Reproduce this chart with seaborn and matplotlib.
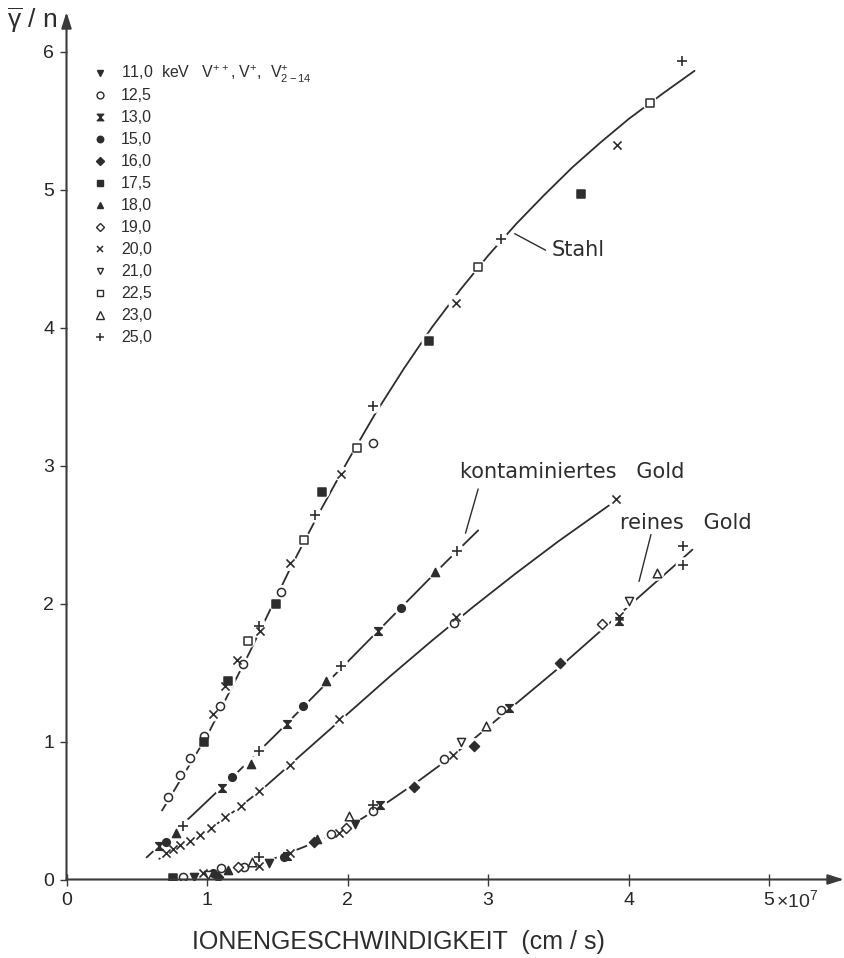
import matplotlib
matplotlib.use("Agg")
import numpy as np
import pandas as pd
import matplotlib.pyplot as plt
from matplotlib.path import Path
from matplotlib.lines import Line2D
import seaborn as sns

# ---------------------------------------------------------------- data
# ion energies (keV), as printed in the key
energies = ["11,0", "12,5", "13,0", "15,0", "16,0", "17,5", "18,0",
            "19,0", "20,0", "21,0", "22,5", "23,0", "25,0"]

# steel target (Stahl): velocity [1e7 cm/s], yield per charge, energy
stahl_v = [0.72, 0.81, 0.88, 0.98, 0.98, 1.04, 1.09, 1.13, 1.15, 1.21, 1.255,
           1.29, 1.37, 1.38, 1.49, 1.53, 1.59, 1.69, 1.77, 1.82, 1.955, 2.07,
           2.18, 2.18, 2.58, 2.77, 2.93, 3.09, 3.66, 3.92, 4.15, 4.38]
stahl_y = [0.60, 0.76, 0.88, 1.04, 1.00, 1.20, 1.26, 1.40, 1.44, 1.59, 1.56,
           1.73, 1.84, 1.80, 2.00, 2.08, 2.29, 2.46, 2.64, 2.81, 2.94, 3.13,
           3.16, 3.43, 3.90, 4.18, 4.44, 4.64, 4.97, 5.32, 5.63, 5.93]
stahl_e = ["12,5", "12,5", "12,5", "12,5", "17,5", "20,0", "12,5", "20,0",
           "17,5", "20,0", "12,5", "22,5", "25,0", "20,0", "17,5", "12,5",
           "20,0", "22,5", "25,0", "17,5", "20,0", "22,5", "12,5", "25,0",
           "17,5", "20,0", "22,5", "25,0", "17,5", "20,0", "22,5", "25,0"]

# contaminated gold
kont_v = [0.66, 0.71, 0.78, 0.83, 1.11, 1.18, 1.31, 1.37, 1.57, 1.68, 1.85,
          1.955, 2.22, 2.38, 2.62, 2.78]
kont_y = [0.24, 0.27, 0.34, 0.39, 0.66, 0.74, 0.84, 0.93, 1.13, 1.26, 1.44,
          1.55, 1.80, 1.97, 2.23, 2.38]
kont_e = ["13,0", "15,0", "18,0", "25,0"] * 4

# gold series measured at 20 keV
mitte_v = [0.71, 0.76, 0.81, 0.88, 0.95, 1.03, 1.13, 1.24, 1.37, 1.59, 1.94,
           2.77, 2.76, 3.91]
mitte_y = [0.19, 0.22, 0.25, 0.28, 0.32, 0.37, 0.45, 0.53, 0.64, 0.83, 1.16,
           1.90, 1.86, 2.76]
mitte_e = ["20,0"] * 11 + ["20,0", "12,5", "20,0"]

# clean gold (reines Gold)
rein_v = [0.76, 0.83, 0.91, 0.97, 1.01, 1.04, 1.08, 1.10, 1.15, 1.22, 1.26,
          1.32, 1.37, 1.37, 1.44, 1.55, 1.57, 1.59, 1.76, 1.78, 1.88, 1.94,
          1.99, 2.01, 2.05, 2.18, 2.18, 2.23, 2.47, 2.69, 2.75, 2.81, 2.90,
          2.985, 3.09, 3.15, 3.51, 3.81, 3.93, 3.93, 4.00, 4.20, 4.39, 4.39]
rein_y = [0.01, 0.02, 0.02, 0.05, 0.03, 0.05, 0.02, 0.08, 0.07, 0.09, 0.09,
          0.13, 0.16, 0.10, 0.12, 0.16, 0.17, 0.19, 0.27, 0.29, 0.33, 0.34,
          0.37, 0.46, 0.40, 0.54, 0.50, 0.54, 0.67, 0.87, 0.90, 1.00, 0.97,
          1.11, 1.23, 1.24, 1.57, 1.85, 1.87, 1.91, 2.02, 2.22, 2.42, 2.28]
rein_e = ["17,5", "12,5", "11,0", "20,0", "21,0", "15,0", "16,0", "12,5",
          "18,0", "19,0", "12,5", "23,0", "25,0", "20,0", "11,0", "15,0",
          "13,0", "20,0", "16,0", "18,0", "12,5", "20,0", "19,0", "23,0",
          "11,0", "25,0", "12,5", "13,0", "16,0", "12,5", "20,0", "21,0",
          "16,0", "23,0", "12,5", "13,0", "16,0", "19,0", "13,0", "20,0",
          "21,0", "23,0", "25,0", "25,0"]

# drawn trend curves (nodes along each hand-drawn line)
stahl_cv = [0.68, 1.0, 1.3, 1.6, 1.8, 2.0, 2.2, 2.4, 2.6, 2.8, 3.0, 3.2,
            3.4, 3.6, 3.8, 4.0, 4.25, 4.47]
stahl_cy = [0.50, 1.04, 1.64, 2.27, 2.66, 3.03, 3.38, 3.70, 4.00, 4.27,
            4.52, 4.75, 4.96, 5.16, 5.34, 5.51, 5.70, 5.86]
kont_cv = [0.57, 0.9, 1.2, 1.5, 1.8, 2.1, 2.4, 2.7, 2.93]
kont_cy = [0.16, 0.47, 0.76, 1.06, 1.37, 1.68, 1.99, 2.30, 2.53]
mitte_cv = [0.66, 0.8, 1.0, 1.2, 1.4, 1.6, 1.8, 2.0, 2.3, 2.6, 2.9, 3.2,
            3.5, 3.86]
mitte_cy = [0.15, 0.23, 0.35, 0.50, 0.66, 0.84, 1.02, 1.20, 1.47, 1.73,
            1.98, 2.22, 2.45, 2.71]
rein_cv = [0.73, 0.9, 1.1, 1.3, 1.5, 1.7, 1.9, 2.1, 2.3, 2.5, 2.7, 2.9,
           3.1, 3.3, 3.5, 3.7, 3.9, 4.1, 4.3, 4.455]
rein_cy = [0.0, 0.02, 0.05, 0.10, 0.16, 0.24, 0.33, 0.44, 0.57, 0.71, 0.86,
           1.02, 1.19, 1.36, 1.53, 1.71, 1.89, 2.07, 2.25, 2.39]

x_ticks = [0, 1, 2, 3, 4, 5]
y_ticks = [0, 1, 2, 3, 4, 5, 6]

# ---------------------------------------------------------------- style
sns.set_style("white")
plt.rcParams["font.family"] = ["Liberation Sans", "DejaVu Sans"]
plt.rcParams["mathtext.fontset"] = "custom"
plt.rcParams["mathtext.rm"] = "Liberation Sans"
plt.rcParams["mathtext.it"] = "Liberation Sans"
NARROW = ["Liberation Sans Narrow", "Liberation Sans", "DejaVu Sans"]
LABEL_FONT = ["DejaVu Sans"]
INK = "#2d2d2d"

HOURGLASS = Path([(-1, 1), (1, 1), (-1, -1), (1, -1), (-1, 1)],
                 [Path.MOVETO, Path.LINETO, Path.LINETO, Path.LINETO,
                  Path.CLOSEPOLY])

# energy -> (marker, filled, size)
MARKERS = {
    "11,0": ("v", True, 34),
    "12,5": ("o", False, 34),
    "13,0": (HOURGLASS, True, 30),
    "15,0": ("o", True, 30),
    "16,0": ("D", True, 26),
    "17,5": ("s", True, 28),
    "18,0": ("^", True, 34),
    "19,0": ("D", False, 26),
    "20,0": ("x", None, 34),
    "21,0": ("v", False, 34),
    "22,5": ("s", False, 30),
    "23,0": ("^", False, 38),
    "25,0": ("+", None, 48),
}

fig = plt.figure(figsize=(8.44, 9.58), dpi=100)
W, H = 844, 958
x0_px, y0_px = 66.5, 879.5
ax = fig.add_axes([x0_px / W, (H - y0_px) / H, 1 - x0_px / W, (y0_px - 12) / H])
ax.set_xlim(0, (W - x0_px) / 140.5)
ax.set_ylim(0, (y0_px - 12) / 138.0)

# ---------------------------------------------------------------- curves
for cv, cy in [(stahl_cv, stahl_cy), (kont_cv, kont_cy),
               (mitte_cv, mitte_cy), (rein_cv, rein_cy)]:
    sns.lineplot(x=cv, y=cy, sort=False, estimator=None, color=INK,
                 linewidth=1.3, ax=ax, zorder=2)

pts = pd.concat([
    pd.DataFrame({"v": stahl_v, "y": stahl_y, "energy": stahl_e}),
    pd.DataFrame({"v": kont_v, "y": kont_y, "energy": kont_e}),
    pd.DataFrame({"v": mitte_v, "y": mitte_y, "energy": mitte_e}),
    pd.DataFrame({"v": rein_v, "y": rein_y, "energy": rein_e}),
], ignore_index=True)

# white halo so the curves break around each measured point
sns.scatterplot(data=pts, x="v", y="y", marker="o", s=120, color="white",
                edgecolor="none", linewidth=0, ax=ax, zorder=3, legend=False)

for e in energies:
    sub = pts[pts["energy"] == e]
    if sub.empty:
        continue
    m, filled, s = MARKERS[e]
    if filled is None:
        sns.scatterplot(data=sub, x="v", y="y", marker=m, s=s, color=INK,
                        linewidth=1.2, ax=ax, zorder=4, legend=False)
    else:
        sns.scatterplot(data=sub, x="v", y="y", marker=m, s=s, color=INK,
                        facecolor=INK if filled else "white", edgecolor=INK,
                        linewidth=1.1, ax=ax, zorder=4, legend=False)

# ---------------------------------------------------------------- axes
for sp in ax.spines.values():
    sp.set_visible(False)
arrow = dict(arrowstyle="-|>,head_length=0.95,head_width=0.3", color="#3a3a3a",
             lw=1.5, mutation_scale=10, shrinkA=0, shrinkB=0)
ax.annotate("", xy=(1, 0), xytext=(0, 0), xycoords="axes fraction",
            arrowprops=arrow, zorder=5, annotation_clip=False)
ax.annotate("", xy=(0, 1), xytext=(0, 0), xycoords="axes fraction",
            arrowprops=arrow, zorder=5, annotation_clip=False)

ax.set_xticks(x_ticks)
ax.set_xticklabels([str(t) for t in x_ticks], family=NARROW, fontsize=14)
ax.set_yticks(y_ticks)
ax.set_yticklabels([str(t) for t in y_ticks], family=NARROW, fontsize=14)
ax.tick_params(axis="x", direction="inout", length=8, width=1.0,
               color="#3a3a3a", pad=5, bottom=True)
ax.tick_params(axis="y", direction="out", length=5, width=1.0,
               color="#3a3a3a", pad=4, left=True)
ax.set_xlabel("")
ax.set_ylabel("")
ax.annotate(r"$\times$10$^{7}$", xy=(5, 0), xycoords="data",
            xytext=(5, -19.8), textcoords="offset points", ha="left",
            va="baseline", family=NARROW, fontsize=14, color=INK,
            annotation_clip=False)

fig.text(398 / W, 1 - 942 / H, "IONENGESCHWINDIGKEIT  (cm / s)",
         ha="center", va="center", family=NARROW, fontsize=18, color=INK)
fig.text(7 / W, 1 - 20 / H, r"$\overline{\gamma}$ / n", ha="left",
         va="center", fontsize=19, color=INK)

# ---------------------------------------------------------------- labels
ax.plot([3.19, 3.41], [4.68, 4.56], color=INK, lw=1.0)
ax.text(3.45, 4.56, "Stahl", ha="left", va="center", family=LABEL_FONT,
        fontsize=15, color=INK)
ax.plot([2.93, 2.84], [2.83, 2.51], color=INK, lw=1.0)
ax.text(2.80, 2.95, "kontaminiertes   Gold", ha="left", va="center",
        family=LABEL_FONT, fontsize=15, color=INK)
ax.plot([4.16, 4.075], [2.50, 2.16], color=INK, lw=1.0)
ax.text(3.94, 2.58, "reines   Gold", ha="left", va="center",
        family=LABEL_FONT, fontsize=15, color=INK)

# ---------------------------------------------------------------- key
key_text = {e: e for e in energies}
key_text["11,0"] = r"11,0  keV   V$^{++}$, V$^{+}$,  V$^{+}_{2-14}$"
for i, e in enumerate(energies):
    yc = 72.7 + 22 * i
    m, filled, s = MARKERS[e]
    ms = np.sqrt(s) * 0.85
    if filled is None:
        kw = dict(color=INK, markeredgewidth=1.1)
    else:
        kw = dict(markerfacecolor=INK if filled else "white",
                  markeredgecolor=INK, markeredgewidth=1.0)
    fig.add_artist(Line2D([100 / W], [1 - yc / H], marker=m, markersize=ms,
                          linestyle="none", transform=fig.transFigure, **kw))
    fig.text(121 / W, 1 - (yc + 5.5) / H, key_text[e], ha="left",
             va="baseline", fontsize=11.5, color=INK)

fig.savefig("out.png", dpi=100, facecolor="white")
